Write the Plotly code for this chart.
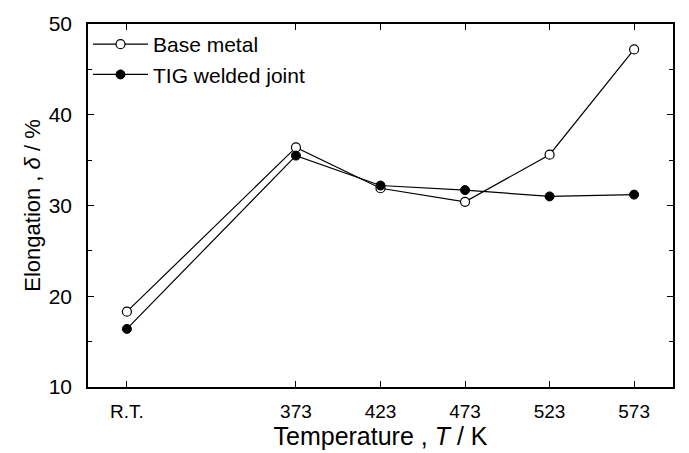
import plotly.graph_objects as go

temps = [273, 373, 423, 473, 523, 573]
tick_labels = ["R.T.", "373", "423", "473", "523", "573"]
base_metal = [18.3, 36.4, 31.9, 30.4, 35.6, 47.2]
tig_joint = [16.4, 35.5, 32.2, 31.7, 31.0, 31.2]

fnt = "Liberation Sans, Arial, sans-serif"

fig = go.Figure()
fig.add_trace(go.Scatter(
    x=temps, y=base_metal, mode="lines+markers", name="Base metal",
    line=dict(color="black", width=1.2),
    marker=dict(symbol="circle", size=9, color="white", line=dict(color="black", width=1.2)),
))
fig.add_trace(go.Scatter(
    x=temps, y=tig_joint, mode="lines+markers", name="TIG welded joint",
    line=dict(color="black", width=1.2),
    marker=dict(symbol="circle", size=9, color="black", line=dict(color="black", width=1)),
))

fig.update_layout(
    width=689, height=453,
    margin=dict(l=88, r=16, t=15, b=63),
    paper_bgcolor="white", plot_bgcolor="white",
    font=dict(family=fnt, color="black", size=16),
    showlegend=True,
    legend=dict(x=0.0, y=1.0, xanchor="left", yanchor="top",
                bgcolor="rgba(0,0,0,0)", font=dict(size=21, family=fnt),
                itemwidth=55, tracegroupgap=2),
    xaxis=dict(
        range=[250, 596], tickvals=temps, ticktext=tick_labels,
        ticks="inside", ticklen=6, tickwidth=1.2, tickcolor="black",
        showline=True, linecolor="black", linewidth=1.5, mirror="ticks",
        showgrid=False, zeroline=False,
        tickfont=dict(size=19, family=fnt), ticklabelstandoff=6,
        title=dict(text="Temperature , <i>T</i> / K", font=dict(size=25, family=fnt), standoff=2),
    ),
    yaxis=dict(
        range=[10, 50], tickvals=[10, 20, 30, 40, 50],
        ticks="inside", ticklen=6, tickwidth=1.2, tickcolor="black",
        minor=dict(ticks="inside", tickvals=[15, 25, 35, 45], ticklen=4, tickcolor="black", showgrid=False),
        showline=True, linecolor="black", linewidth=1.5, mirror="ticks",
        showgrid=False, zeroline=False,
        tickfont=dict(size=21, family=fnt), ticklabelstandoff=10,
        title=dict(text="Elongation , <i>δ</i> / %", font=dict(size=22, family=fnt), standoff=2),
    ),
)

fig.write_html("out.html")
